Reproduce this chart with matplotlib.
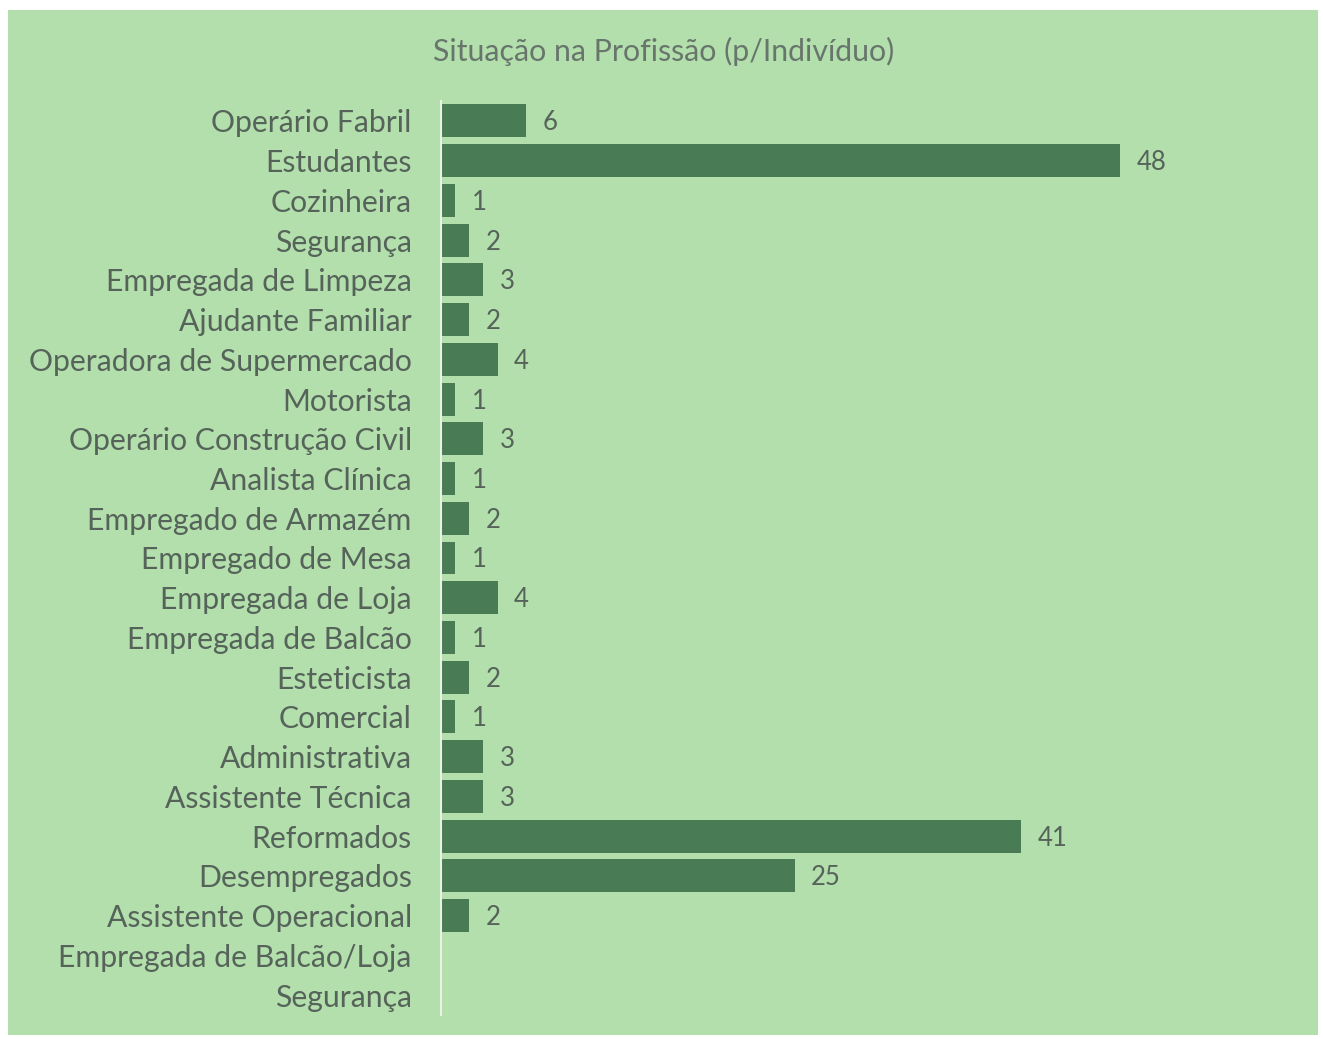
import matplotlib
matplotlib.use("Agg")
import matplotlib.pyplot as plt
from matplotlib.patches import Rectangle
import numpy as np

categories = [
    "Operário Fabril", "Estudantes", "Cozinheira", "Segurança",
    "Empregada de Limpeza", "Ajudante Familiar", "Operadora de Supermercado",
    "Motorista", "Operário Construção Civil", "Analista Clínica",
    "Empregado de Armazém", "Empregado de Mesa", "Empregada de Loja",
    "Empregada de Balcão", "Esteticista", "Comercial", "Administrativa",
    "Assistente Técnica", "Reformados", "Desempregados",
    "Assistente Operacional", "Empregada de Balcão/Loja", "Segurança",
]
values = [6, 48, 1, 2, 3, 2, 4, 1, 3, 1, 2, 1, 4, 1, 2, 1, 3, 3, 41, 25, 2,
          None, None]
title = "Situação na Profissão (p/Indivíduo)"

BG = "#b2dfab"
BAR = "#497b55"
TXT = "#56635a"

plt.rcParams["font.family"] = ["Lato", "DejaVu Sans"]

fig = plt.figure(figsize=(13.23, 10.39), dpi=100, facecolor="white")
fig.patches.append(Rectangle((8 / 1323, 4 / 1039), 1310 / 1323, 1025 / 1039,
                             transform=fig.transFigure, facecolor=BG,
                             edgecolor="none", zorder=-10))

ax = fig.add_axes([441 / 1323, 24 / 1039, 809 / 1323, 914 / 1039])
ax.set_facecolor("none")

y = np.arange(len(categories))
vals = np.array([np.nan if v is None else v for v in values], dtype=float)
ax.barh(y, vals, height=0.83, color=BAR)
for yi, v in zip(y, values):
    if v is not None:
        ax.text(v + 1.15, yi + 0.05, str(v), va="center", ha="left",
                fontsize=18.5, color=TXT)

ax.set_ylim(len(categories) - 0.5, -0.5)
ax.set_xlim(0, 809 / 14.15)
ax.set_yticks(y)
ax.set_yticklabels(categories, fontsize=21.7, color=TXT)
ax.tick_params(axis="y", length=0, pad=21)
ax.set_xticks([])
for s in ["top", "right", "bottom"]:
    ax.spines[s].set_visible(False)
ax.spines["left"].set_color("#e8f3e6")
ax.spines["left"].set_linewidth(1.5)

fig.text(664 / 1323, 1 - 51 / 1039, title, ha="center", va="center",
         fontsize=21.8, color="#68756c")

fig.savefig("out.png", dpi=100, facecolor="white")
